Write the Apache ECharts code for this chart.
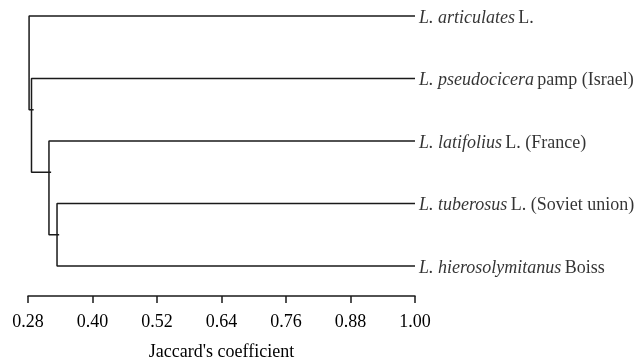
<!DOCTYPE html>
<html>
<head>
<meta charset="utf-8">
<script src="https://cdn.jsdelivr.net/npm/echarts@6/dist/echarts.min.js"></script>
<style>html,body{margin:0;padding:0;background:#fff;}#c{width:641px;height:358px;}</style>
</head>
<body>
<div id="c"></div>
<script>
// Leaves, top to bottom
const leafItalic = ['L. articulates', 'L. pseudocicera', 'L. latifolius', 'L. tuberosus', 'L. hierosolymitanus'];
const leafRest = ['L.', 'pamp (Israel)', 'L. (France)', 'L. (Soviet union)', 'Boiss'];
const leafValue = 1.00;
// Merge nodes: children (leaf index or 'n'+node index), height (Jaccard), join row
const mergeChildren = [[3, 4], [2, 'n0'], [1, 'n1'], [0, 'n2']];
const mergeHeights = [0.334, 0.319, 0.2865, 0.282];
const mergeRows = [3.5, 2.5, 1.5, 0.75];
const tickValues = [0.28, 0.40, 0.52, 0.64, 0.76, 0.88, 1.00];

function childPos(c) {
  if (typeof c === 'number') return { x: leafValue, y: c };
  const k = +c.slice(1);
  return { x: mergeHeights[k], y: mergeRows[k] };
}
const over = 0.004;
const segData = [];
mergeChildren.forEach((ch, k) => {
  const h = mergeHeights[k];
  const a = childPos(ch[0]), b = childPos(ch[1]);
  const ax = typeof ch[0] === 'number' ? a.x : a.x + over;
  const bx = typeof ch[1] === 'number' ? b.x : b.x + over;
  segData.push([ax, a.y], [h, a.y], [h, b.y], [bx, b.y], '-');
});

const FONT = 'Liberation Serif';
const chart = echarts.init(document.getElementById('c'));
chart.setOption({
  animation: false,
  grid: { left: 28, right: 226, top: 3.5, bottom: 62, containLabel: false, outerBoundsMode: 'none' },
  xAxis: {
    type: 'value', min: 0.28, max: 1.00, position: 'bottom',
    name: "Jaccard's coefficient", nameLocation: 'middle', nameGap: 47,
    nameTextStyle: { fontFamily: FONT, fontSize: 18, color: '#000' },
    axisLine: { show: true, onZero: false, lineStyle: { color: '#1a1a1a', width: 1.5 } },
    axisTick: { show: true, length: 7, lineStyle: { color: '#1a1a1a', width: 1.5 }, customValues: tickValues },
    axisLabel: { customValues: tickValues, formatter: v => v.toFixed(2), fontFamily: FONT, fontSize: 18, color: '#000', margin: 17 },
    splitLine: { show: false }
  },
  yAxis: { type: 'value', inverse: true, min: -0.2, max: 4.48, show: false },
  series: [
    {
      type: 'line', data: segData, symbol: 'none', connectNulls: false, clip: false,
      lineStyle: { color: '#1a1a1a', width: 1.5 }
    },
    {
      type: 'scatter', symbolSize: 0, clip: false,
      data: leafItalic.map((t, i) => [leafValue, i]),
      label: {
        show: true, position: 'right', distance: 4, offset: [0, 2],
        formatter: p => '{i|' + leafItalic[p.dataIndex] + '} {n|' + leafRest[p.dataIndex] + '}',
        rich: {
          i: { fontFamily: FONT, fontStyle: 'italic', fontSize: 18, color: '#000' },
          n: { fontFamily: FONT, fontSize: 18, color: '#000' }
        }
      }
    }
  ]
});
</script>
</body>
</html>
